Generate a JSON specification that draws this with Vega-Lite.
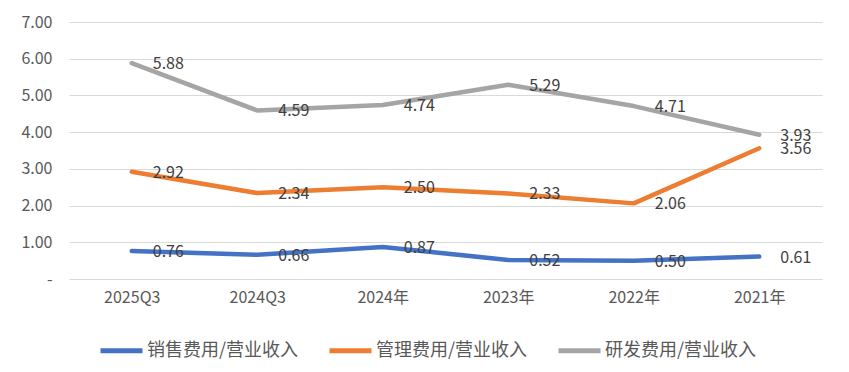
{
  "$schema": "https://vega.github.io/schema/vega-lite/v6.json",
  "width": 753,
  "height": 257,
  "autosize": {"type": "none"},
  "padding": {"left": 69, "top": 22, "right": 27, "bottom": 93},
  "background": "white",
  "config": {
    "view": {"stroke": null},
    "font": "Noto Sans CJK SC"
  },
  "data": {
    "values": [
      {"period": "2025Q3", "series": "销售费用/营业收入", "value": 0.76},
      {"period": "2024Q3", "series": "销售费用/营业收入", "value": 0.66},
      {"period": "2024年", "series": "销售费用/营业收入", "value": 0.87},
      {"period": "2023年", "series": "销售费用/营业收入", "value": 0.52},
      {"period": "2022年", "series": "销售费用/营业收入", "value": 0.50},
      {"period": "2021年", "series": "销售费用/营业收入", "value": 0.61},
      {"period": "2025Q3", "series": "管理费用/营业收入", "value": 2.92},
      {"period": "2024Q3", "series": "管理费用/营业收入", "value": 2.34},
      {"period": "2024年", "series": "管理费用/营业收入", "value": 2.50},
      {"period": "2023年", "series": "管理费用/营业收入", "value": 2.33},
      {"period": "2022年", "series": "管理费用/营业收入", "value": 2.06},
      {"period": "2021年", "series": "管理费用/营业收入", "value": 3.56},
      {"period": "2025Q3", "series": "研发费用/营业收入", "value": 5.88},
      {"period": "2024Q3", "series": "研发费用/营业收入", "value": 4.59},
      {"period": "2024年", "series": "研发费用/营业收入", "value": 4.74},
      {"period": "2023年", "series": "研发费用/营业收入", "value": 5.29},
      {"period": "2022年", "series": "研发费用/营业收入", "value": 4.71},
      {"period": "2021年", "series": "研发费用/营业收入", "value": 3.93}
    ]
  },
  "encoding": {
    "x": {
      "field": "period",
      "type": "ordinal",
      "sort": ["2025Q3", "2024Q3", "2024年", "2023年", "2022年", "2021年"],
      "scale": {"paddingInner": 0, "paddingOuter": 0.5},
      "axis": {
        "title": null,
        "labelAngle": 0,
        "domain": false,
        "ticks": false,
        "labelPadding": 10,
        "labelFontSize": 16,
        "labelColor": "#595959",
        "grid": false
      }
    },
    "y": {
      "field": "value",
      "type": "quantitative",
      "scale": {"domain": [0, 7], "nice": false},
      "axis": {
        "title": null,
        "values": [0, 1, 2, 3, 4, 5, 6, 7],
        "labelExpr": "datum.value == 0 ? '-' : format(datum.value, '.2f')",
        "domain": false,
        "ticks": false,
        "labelPadding": 17,
        "labelFontSize": 16,
        "labelColor": "#595959",
        "gridColor": "#d9d9d9",
        "gridWidth": 1.2
      }
    },
    "color": {
      "field": "series",
      "type": "nominal",
      "sort": ["销售费用/营业收入", "管理费用/营业收入", "研发费用/营业收入"],
      "scale": {
        "domain": ["销售费用/营业收入", "管理费用/营业收入", "研发费用/营业收入"],
        "range": ["#4472C4", "#ED7D31", "#A5A5A5"]
      },
      "legend": {
        "title": null,
        "orient": "none",
        "legendX": 29,
        "legendY": 305,
        "direction": "horizontal",
        "columns": 3,
        "symbolType": "stroke",
        "symbolStrokeWidth": 5,
        "symbolSize": 1764,
        "labelFontSize": 18,
        "labelColor": "#595959",
        "labelOffset": 2,
        "columnPadding": 20,
        "labelLimit": 300
      }
    }
  },
  "layer": [
    {
      "mark": {"type": "line", "strokeWidth": 4.5, "strokeCap": "round", "strokeJoin": "round"}
    },
    {
      "mark": {"type": "text", "align": "left", "baseline": "middle", "dx": 21, "dy": 1, "fontSize": 16, "color": "#404040"},
      "encoding": {
        "text": {"field": "value", "type": "quantitative", "format": ".2f"},
        "color": {"value": "#404040"}
      }
    }
  ]
}
